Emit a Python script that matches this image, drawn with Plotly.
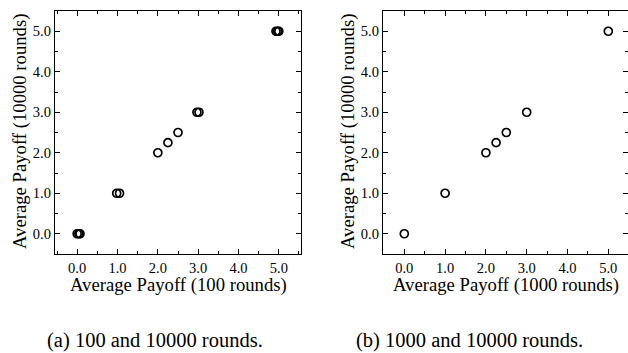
import plotly.graph_objects as go

# Panel (a): 100 vs 10000 rounds
a_x = [0.0, 0.04, 0.07, 0.98, 1.05, 2.0, 2.25, 2.5, 2.97, 3.02, 4.93, 4.97, 5.0]
a_y = [0.0, 0.0, 0.0, 1.0, 1.0, 2.0, 2.25, 2.5, 3.0, 3.0, 5.0, 5.0, 5.0]
# Panel (b): 1000 vs 10000 rounds
b_x = [0.0, 1.0, 2.0, 2.25, 2.5, 3.0, 5.0]
b_y = [0.0, 1.0, 2.0, 2.25, 2.5, 3.0, 5.0]

tick_vals = [0, 1, 2, 3, 4, 5]
tick_text = ["0.0", "1.0", "2.0", "3.0", "4.0", "5.0"]

xtitle_a = "Average Payoff (100 rounds)"
xtitle_b = "Average Payoff (1000 rounds)"
ytitle = "Average Payoff (10000 rounds)"
caption_a = "(a) 100 and 10000 rounds."
caption_b = "(b) 1000 and 10000 rounds."

FONT = "Liberation Serif, Times New Roman, serif"
W, H = 628, 353

fig = go.Figure()
marker = dict(symbol="circle-open", size=8, color="black", line=dict(width=1.7, color="black"))
fig.add_trace(go.Scatter(x=a_x, y=a_y, mode="markers", marker=marker, xaxis="x", yaxis="y", showlegend=False))
fig.add_trace(go.Scatter(x=b_x, y=b_y, mode="markers", marker=marker, xaxis="x2", yaxis="y2", showlegend=False))

def ax(domain, rng, anchor):
    return dict(
        domain=domain, range=rng, anchor=anchor,
        tickmode="array", tickvals=tick_vals, ticktext=tick_text,
        ticks="inside", ticklen=5, tickwidth=1, tickcolor="black",
        minor=dict(ticks="inside", dtick=0.5, tick0=0, ticklen=3, tickwidth=1, tickcolor="black"),
        showline=True, linecolor="black", linewidth=1.3, mirror="allticks",
        showgrid=False, zeroline=False,
        tickfont=dict(family=FONT, size=14.5, color="black"),
    )

ydom = [(H - 254) / H, (H - 11) / H]
fig.update_layout(
    width=W, height=H,
    margin=dict(l=0, r=0, t=0, b=0),
    paper_bgcolor="white", plot_bgcolor="white",
    xaxis=ax([55 / W, 301 / W], [-0.55, 5.55], "y"),
    yaxis=ax(ydom, [-0.5, 5.5], "x"),
    xaxis2=ax([383 / W, 1.0], [-0.522, 5.483], "y2"),
    yaxis2=ax(ydom, [-0.5, 5.5], "x2"),
)

def ann(text, x, y, size, angle=0):
    fig.add_annotation(text=text, x=x / W, y=(H - y) / H, xref="paper", yref="paper",
                       xanchor="center", yanchor="middle", showarrow=False, textangle=angle,
                       font=dict(family=FONT, size=size, color="black"))

ann(xtitle_a, 178, 285, 18.7)
ann(xtitle_b, 506, 285, 18.7)
ann(ytitle, 20, 132, 18.7, -90)
ann(ytitle, 348, 132, 18.7, -90)
ann(caption_a, 155, 340, 20.5)
ann(caption_b, 470, 340, 20.5)

fig.write_html("out.html")
